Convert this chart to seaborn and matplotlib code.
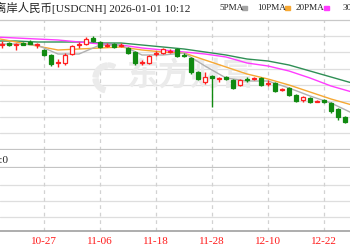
import matplotlib
matplotlib.use("Agg")
import matplotlib.pyplot as plt
import matplotlib.transforms as mtransforms
from matplotlib import font_manager as fm
from matplotlib.patches import Rectangle, Wedge
import seaborn as sns
import pandas as pd
import numpy as np

sns.set_theme(style="white")
plt.rcParams['font.family'] = ['Liberation Serif', 'Noto Sans CJK SC', 'DejaVu Sans']


def has_font(name):
    try:
        fm.findfont(fm.FontProperties(family=name), fallback_to_default=False)
        return True
    except Exception:
        return False


NARROW = 'Liberation Sans Narrow' if has_font('Liberation Sans Narrow') else 'Liberation Serif'

# ---------------- data ----------------
title = "离岸人民币[USDCNH] 2026-01-01 10:12"
ma_names = ["5PMA", "10PMA", "20PMA", "30PMA"]
ma_colors = ["#b0b0b0", "#f6a833", "#ff3cff", "#2f8f55"]
date_labels = ["10-15", "10-27", "11-06", "11-18", "11-28", "12-10", "12-22"]
date_idx = [-8, 0, 8, 16, 24, 32, 40]
volume_label = "成交量:0"
watermark = "东方财富"

candle_idx = list(range(-6, 44))
opens = [7.1255, 7.127, 7.1255, 7.1275, 7.1285, 7.1255, 7.120, 7.115, 7.1075, 7.107,
         7.116, 7.1255, 7.126, 7.132, 7.128, 7.1245, 7.126, 7.1245, 7.122, 7.118,
         7.1075, 7.107, 7.1165, 7.117, 7.1185, 7.121, 7.115, 7.112, 7.098, 7.088,
         7.094, 7.0915, 7.0925, 7.090, 7.085, 7.0915, 7.0915, 7.092, 7.0865, 7.087,
         7.0805, 7.082, 7.075, 7.070, 7.072, 7.0685, 7.070, 7.067, 7.061, 7.053]
closes = [7.126, 7.125, 7.126, 7.1255, 7.1265, 7.126, 7.115, 7.106, 7.108, 7.115,
          7.124, 7.126, 7.131, 7.129, 7.123, 7.125, 7.123, 7.125, 7.117, 7.107,
          7.108, 7.114, 7.117, 7.121, 7.119, 7.114, 7.1145, 7.098, 7.091, 7.093,
          7.092, 7.092, 7.091, 7.082, 7.090, 7.090, 7.092, 7.085, 7.087, 7.079,
          7.081, 7.075, 7.069, 7.073, 7.068, 7.069, 7.068, 7.059, 7.053, 7.048]
highs = [7.129, 7.128, 7.127, 7.128, 7.130, 7.127, 7.121, 7.116, 7.111, 7.117,
         7.125, 7.128, 7.133, 7.134, 7.129, 7.127, 7.127, 7.127, 7.123, 7.119,
         7.110, 7.115, 7.119, 7.122, 7.121, 7.122, 7.117, 7.113, 7.099, 7.098,
         7.095, 7.093, 7.094, 7.091, 7.091, 7.093, 7.093, 7.093, 7.090, 7.088,
         7.082, 7.083, 7.076, 7.074, 7.073, 7.070, 7.071, 7.068, 7.062, 7.054]
lows = [7.122, 7.124, 7.120, 7.125, 7.126, 7.122, 7.114, 7.104, 7.103, 7.105,
        7.115, 7.122, 7.125, 7.128, 7.122, 7.123, 7.122, 7.123, 7.116, 7.105,
        7.105, 7.106, 7.114, 7.116, 7.117, 7.113, 7.113, 7.096, 7.090, 7.086,
        7.063, 7.088, 7.090, 7.081, 7.084, 7.088, 7.090, 7.084, 7.084, 7.078,
        7.079, 7.074, 7.068, 7.068, 7.067, 7.068, 7.067, 7.057, 7.050, 7.047]

ma_idx = [-7, -4, -1, 2, 5, 8, 11, 14, 17, 20, 23, 26, 29, 32, 35, 38, 41, 44]
ma5 = [7.126, 7.126, 7.125, 7.116, 7.116, 7.125, 7.125, 7.115, 7.115, 7.117, 7.104, 7.092,
       7.089, 7.089, 7.082, 7.074, 7.067, 7.057]
ma10 = [7.132, 7.128, 7.124, 7.120, 7.121, 7.122, 7.123, 7.120, 7.118, 7.117, 7.110, 7.103,
        7.096, 7.091, 7.085, 7.078, 7.071, 7.065]
ma20 = [7.133, 7.132, 7.131, 7.130, 7.128, 7.126, 7.125, 7.122, 7.120, 7.118, 7.116, 7.113,
        7.107, 7.104, 7.099, 7.092, 7.084, 7.078]
ma30 = [7.129, 7.129, 7.128, 7.128, 7.128, 7.127, 7.127, 7.125, 7.123, 7.121, 7.118, 7.115,
        7.111, 7.109, 7.105, 7.099, 7.093, 7.087]

# ---------------- layout (pixels) ----------------
W, H = 350, 250
TOP, MAIN_B, BAND_B, VOL_B = 20, 149.5, 168, 231


def frac_box(top, bottom):
    return [0, (H - bottom) / H, 1, (bottom - top) / H]


fig = plt.figure(figsize=(W / 100, H / 100), dpi=100)
fig.patch.set_facecolor("white")

xlim = (-44 / 7, (W - 44) / 7)
ylim = (7.170 - MAIN_B / 1000, 7.170 - TOP / 1000)
ax = fig.add_axes(frac_box(TOP, MAIN_B))
band = fig.add_axes(frac_box(MAIN_B, BAND_B))
vol = fig.add_axes(frac_box(BAND_B, VOL_B))

grid_c = "#dedede"
vdash_c = "#d2d2d2"
for a in (ax, band, vol):
    a.set_xlim(*xlim)
    a.set_facecolor("white")
    a.set_xticks([])
    a.set_yticks([])
    for s in a.spines.values():
        s.set_visible(False)
    for d in date_idx:
        a.axvline(d, color=vdash_c, lw=0.9, ls=(0, (3, 3)), zorder=0.5)

ax.set_ylim(*ylim)
for yv in np.linspace(ylim[0], ylim[1], 9)[1:-1]:
    ax.axhline(yv, color=grid_c, lw=0.9, zorder=0.4)
ax.spines['top'].set_visible(True)
ax.spines['top'].set_color("#c8c8c8")
ax.spines['top'].set_linewidth(0.9)
ax.spines['bottom'].set_visible(True)
ax.spines['bottom'].set_color("#c4c4c4")
ax.spines['bottom'].set_linewidth(1.6)

band.set_ylim(0, 1)
band.spines['bottom'].set_visible(True)
band.spines['bottom'].set_color("#c4c4c4")
band.spines['bottom'].set_linewidth(1.6)

vol.set_ylim(0, VOL_B - BAND_B)
for yv in (VOL_B - 185, VOL_B - 201, VOL_B - 217):
    vol.axhline(yv, color=grid_c, lw=0.9, zorder=0.4)
vol.spines['bottom'].set_visible(True)
vol.spines['bottom'].set_color("#a0a0a0")
vol.spines['bottom'].set_linewidth(1.2)

# watermark (logo swoosh + text), in pixel-like coordinates of the main pane
wm_c = "#ebebeb"
ph = MAIN_B - TOP
pix = mtransforms.Affine2D().scale(1 / W, 1 / ph) + ax.transAxes
for th1, th2, r, wdt in [(95, 175, 15, 5), (185, 255, 15, 5), (60, 90, 15, 4)]:
    ax.add_patch(Wedge((108, MAIN_B - 78), r, th1, th2, width=wdt, color=wm_c,
                       transform=pix, zorder=0.6))
ax.text(126 / W, (MAIN_B - 77) / ph, watermark, transform=ax.transAxes, fontsize=23,
        family=['Noto Sans CJK SC'], fontweight='bold', color=wm_c,
        ha='left', va='center', zorder=0.6)

# MA lines
ma_df = pd.DataFrame({
    "idx": ma_idx * 4,
    "value": ma5 + ma10 + ma20 + ma30,
    "ma": sum([[n] * len(ma_idx) for n in ma_names], []),
})
sns.lineplot(data=ma_df, x="idx", y="value", hue="ma", hue_order=ma_names[::-1],
             palette=dict(zip(ma_names, ma_colors)), linewidth=1.0, legend=False,
             ax=ax, zorder=2)
ax.set_xlabel("")
ax.set_ylabel("")
ax.set_xlim(*xlim)
ax.set_ylim(*ylim)

# candles
red, green = "#ff2020", "#108a10"
for i, o, c, h, l in zip(candle_idx, opens, closes, highs, lows):
    up = c >= o
    col = red if up else green
    ax.vlines(i, l, h, color=col, lw=1.0, zorder=3)
    ax.bar(i, abs(c - o) if abs(c - o) > 0.0006 else 0.0004, bottom=min(o, c),
           width=0.62, color="white" if up else green, edgecolor=col,
           linewidth=0.9, zorder=4)

# date labels
trans = mtransforms.blended_transform_factory(vol.transData, vol.transAxes)
for d, lab in zip(date_idx, date_labels):
    vol.text(d, -0.16, lab, transform=trans, ha='center', va='center',
             color="#ff1a1a", fontsize=8, clip_on=False)

# volume label
fig.text(9 / W, 1 - 160 / H, volume_label, ha='right', va='center', fontsize=8,
         color="#222222")

# title & legend
fig.text(-5 / W, 1 - 8 / H, title, ha='left', va='center', fontsize=8.2,
         color="#222222")
leg_text_left = [219, 257, 296, 343]
leg_mark = [242, 285, 324, 371]
mark_colors = ["#a4a4a4"] + ma_colors[1:]
for xl, name in zip(leg_text_left, ma_names):
    fig.text(xl / W, 1 - 8 / H, name, ha='left', va='center', fontsize=6.6,
             family=[NARROW, 'DejaVu Sans'], color="#222222")
for xm, col in zip(leg_mark, mark_colors):
    fig.patches.append(Rectangle((xm / W, 1 - 9.5 / H), 5 / W, 3 / H,
                                 transform=fig.transFigure, color=col, figure=fig))

fig.savefig("out.png", dpi=100, facecolor="white")
